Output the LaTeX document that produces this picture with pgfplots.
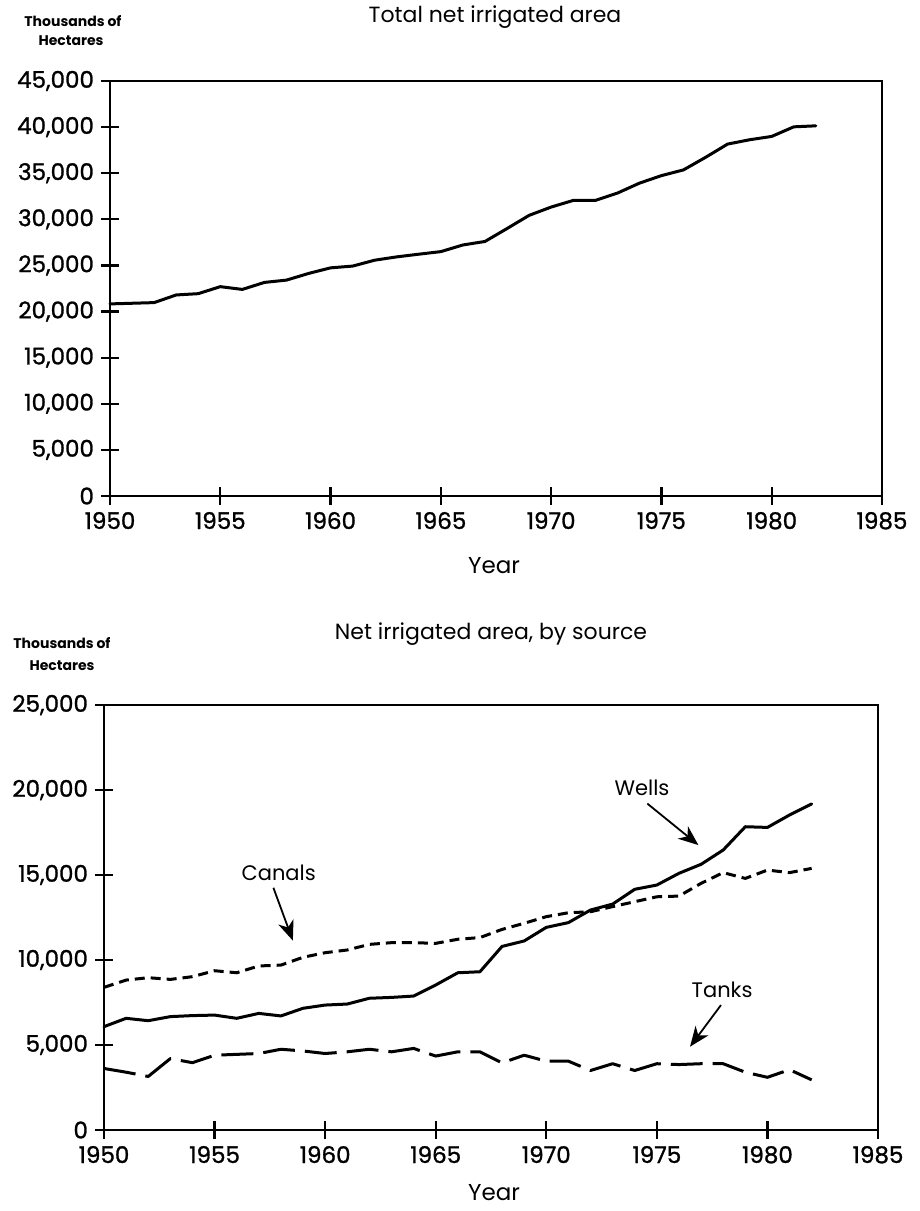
\documentclass[border=0pt]{standalone}
\usepackage{fontspec}
\setmainfont{Poppins}
\newfontfamily\tickfont{Poppins}[FakeBold=1.2]
\usepackage{pgfplots}
\usepackage{pgfplotstable}
\pgfplotsset{compat=1.18}
\usetikzlibrary{arrows.meta}

\pgfplotstableread{
year total
1950 20830
1951 20900
1952 20970
1953 21800
1954 21940
1955 22700
1956 22400
1957 23160
1958 23410
1959 24130
1960 24740
1961 24930
1962 25570
1963 25930
1964 26220
1965 26500
1966 27220
1967 27600
1968 29000
1969 30430
1970 31330
1971 32050
1972 32050
1973 32840
1974 33920
1975 34740
1976 35360
1977 36720
1978 38160
1979 38630
1980 38990
1981 40030
1982 40140
}\totaltable

\pgfplotstableread{
year wells canals tanks
1950 6080 8390 3620
1951 6570 8820 3400
1952 6430 8960 3150
1953 6670 8860 4200
1954 6730 9020 3960
1955 6760 9370 4400
1956 6570 9250 4450
1957 6860 9650 4500
1958 6710 9700 4750
1959 7160 10160 4650
1960 7350 10430 4500
1961 7410 10590 4600
1962 7750 10920 4750
1963 7800 11020 4600
1964 7880 11020 4800
1965 8530 10980 4350
1966 9250 11220 4600
1967 9310 11320 4600
1968 10800 11800 3950
1969 11120 12160 4400
1970 11920 12550 4050
1971 12200 12780 4050
1972 12940 12840 3500
1973 13290 13140 3900
1974 14160 13430 3500
1975 14410 13720 3900
1976 15100 13760 3850
1977 15630 14510 3900
1978 16470 15140 3900
1979 17840 14800 3400
1980 17800 15290 3100
1981 18530 15140 3550
1982 19180 15390 2950
}\sourcetable

\pgfplotsset{
  myaxis/.style={
    scale only axis,
    anchor=north west,
    clip=false,
    xmin=1950, xmax=1985,
    ymin=0,
    xtick={1950,1955,...,1985},
    tick align=center,
    xtick pos=bottom, ytick pos=left,
    major tick length=9pt,
    axis line style={line width=1.2pt},
    every tick/.style={black, line width=1.1pt},
    tick label style={font=\tickfont\fontsize{11.5}{13}\selectfont},
    /pgf/number format/assume math mode=true,
    scaled y ticks=false,
    y tick label style={/pgf/number format/1000 sep={,}},
    x tick label style={/pgf/number format/1000 sep={}},
  },
  myline/.style={black, line width=1.5pt, line join=round, line cap=round},
}

\begin{document}
\begin{tikzpicture}
\path[use as bounding box] (0,0) rectangle (460pt,-605.5pt);

\begin{axis}[myaxis,
  at={(55pt,-40.5pt)}, width=386pt, height=207.5pt,
  ymax=45000, ytick={0,5000,...,45000}]
\addplot[myline] table[x=year, y=total] {\totaltable};
\end{axis}

\begin{axis}[myaxis,
  at={(52pt,-352.5pt)}, width=387pt, height=212.5pt,
  ymax=25000, ytick={0,5000,...,25000}]
\addplot[myline] table[x=year, y=wells] {\sourcetable};
\addplot[myline, line cap=butt, dash pattern=on 5pt off 3pt] table[x=year, y=canals] {\sourcetable};
\addplot[myline, line cap=butt, dash pattern=on 16pt off 5pt] table[x=year, y=tanks] {\sourcetable};
\node[font=\fontsize{10.5}{12}\selectfont] at (axis cs:1974.33,20100) {Wells};
\draw[-{Stealth[length=10pt,width=8pt,inset=3pt]}, line width=0.9pt] (axis cs:1974.57,19200) -- (axis cs:1976.88,16760);
\node[font=\fontsize{10.5}{12}\selectfont] at (axis cs:1957.9,15100) {Canals};
\draw[-{Stealth[length=10pt,width=8pt,inset=3pt]}, line width=0.9pt] (axis cs:1957.66,14250) -- (axis cs:1958.54,11140);
\node[font=\fontsize{10.5}{12}\selectfont] at (axis cs:1977.95,8240) {Tanks};
\draw[-{Stealth[length=10pt,width=8pt,inset=3pt]}, line width=0.9pt] (axis cs:1977.9,7350) -- (axis cs:1976.5,4900);
\end{axis}

% titles and labels
\node[anchor=base, font=\fontsize{11}{12}\selectfont] at (247.5pt,-11.3pt) {Total net irrigated area};
\node[anchor=base, font=\bfseries\fontsize{7}{8}\selectfont] at (36.5pt,-13pt) {Thousands of};
\node[anchor=base, font=\bfseries\fontsize{7}{8}\selectfont] at (35.5pt,-22.5pt) {Hectares};
\node[anchor=base, font=\fontsize{11.5}{12}\selectfont] at (247pt,-286.5pt) {Year};

\node[anchor=base, font=\fontsize{11}{12}\selectfont] at (245.5pt,-319.7pt) {Net irrigated area, by source};
\node[anchor=base, font=\bfseries\fontsize{7}{8}\selectfont] at (31pt,-324pt) {Thousands of};
\node[anchor=base, font=\bfseries\fontsize{7}{8}\selectfont] at (31pt,-335pt) {Hectares};
\node[anchor=base, font=\fontsize{11.5}{12}\selectfont] at (247pt,-600pt) {Year};
\end{tikzpicture}
\end{document}
